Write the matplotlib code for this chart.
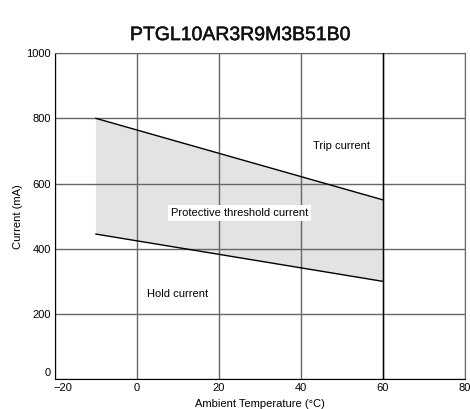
import numpy as np
import matplotlib
matplotlib.use('Agg')
import matplotlib.pyplot as plt
import matplotlib.patheffects as pe
from matplotlib.transforms import ScaledTranslation

# data
temp = [-10, 60]
trip = [800, 550]
hold = [445, 300]

plt.rcParams['font.family'] = ['Liberation Sans', 'DejaVu Sans']

fig = plt.figure(figsize=(4.7, 4.09), dpi=100)
ax = fig.add_axes([0.117, 0.073, 0.872, 0.797])

ax.fill_between(temp, hold, trip, facecolor='#e3e3e3', edgecolor='none', zorder=1)
ax.grid(True, color='#666666', linewidth=1.0, zorder=2)
ax.axvline(60, color='black', linewidth=1.0, zorder=3)
ax.plot(temp, trip, color='black', linewidth=1.0, zorder=4)
ax.plot(temp, hold, color='black', linewidth=1.0, zorder=4)

ax.text(50, 715, 'Trip current', fontsize=8, ha='center', va='center', zorder=5)
ax.text(25, 510, 'Protective threshold current', fontsize=8, ha='center', va='center',
        zorder=5, bbox=dict(facecolor='white', edgecolor='none', pad=2))
ax.text(10, 260, 'Hold current', fontsize=8, ha='center', va='center', zorder=5,
        bbox=dict(facecolor='white', edgecolor='none', pad=1))

ax.set_xlim(-20, 80)
ax.set_ylim(0, 1000)
ax.set_xticks([-20, 0, 20, 40, 60, 80])
ax.set_yticks([0, 200, 400, 600, 800, 1000])
ax.tick_params(length=0, labelsize=8, pad=3)
ax.set_xlabel('Ambient Temperature (°C)', fontsize=8, labelpad=4)
ax.set_ylabel('Current (mA)', fontsize=8, labelpad=2)
for s in ['top', 'right']:
    ax.spines[s].set_color('#666666')
for s in ['left', 'bottom']:
    ax.spines[s].set_color('black')

# nudge the corner labels apart like the reference
ylab0 = ax.get_yticklabels()[0]
ylab0.set_transform(ylab0.get_transform() + ScaledTranslation(0, 5 / 72, fig.dpi_scale_trans))
xlab0 = ax.get_xticklabels()[0]
xlab0.set_transform(xlab0.get_transform() + ScaledTranslation(6 / 72, 0, fig.dpi_scale_trans))

fig.text(0.512, 0.913, 'PTGL10AR3R9M3B51B0', ha='center', va='center', fontsize=14,
         family='Liberation Sans', color='#111111',
         path_effects=[pe.withStroke(linewidth=0.35, foreground='#111111')])

fig.savefig('out.png', dpi=100)
